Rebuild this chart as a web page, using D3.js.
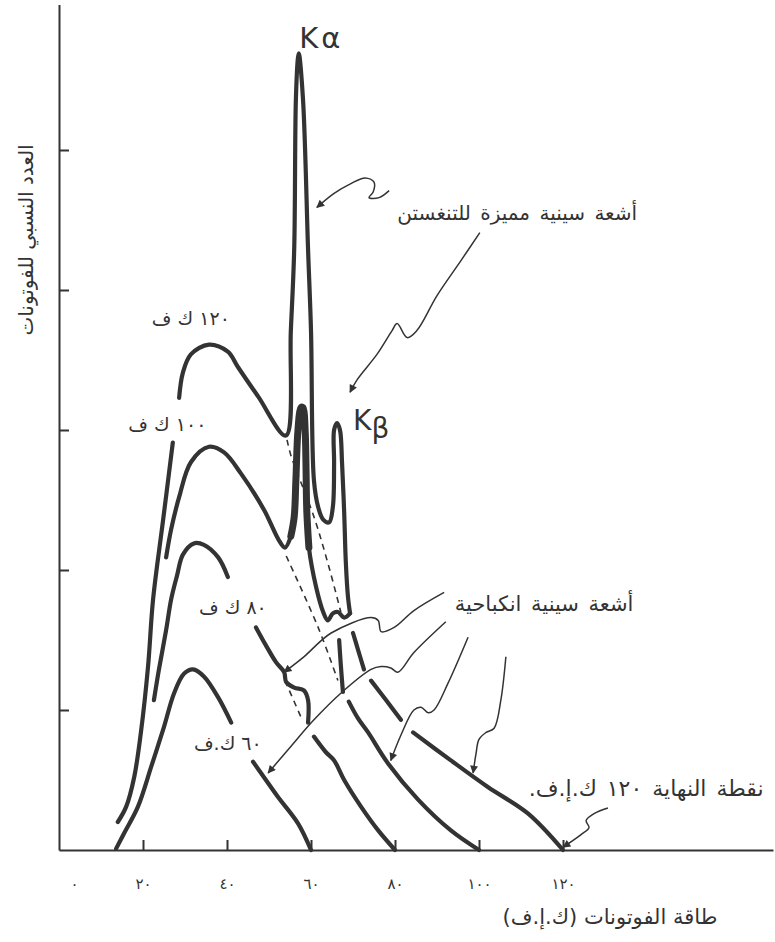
<!DOCTYPE html>
<html lang="ar">
<head>
    <meta charset="UTF-8">
    <script src="https://cdn.jsdelivr.net/npm/d3@7/dist/d3.min.js"></script>
    <title>طيف الأشعة السينية</title>
    <style>
        body { margin: 0; background: #fff; }
        text { font-family: "DejaVu Sans", sans-serif; fill: #333; }
    </style>
</head>
<body>
<script>
    // spectra: [photon energy keV, relative count]; null = pen lifted
    let kv60 = [
        [13.6, 0.01], [15.5, 0.12], [18.8, 0.31], [21.9, 0.59], [25.0, 0.88], [27.4, 1.12], [29.8, 1.26],
        [31.9, 1.29], [34.5, 1.24], [37.9, 1.09], [41.0, 0.91], null,
        [46.2, 0.63], [48.8, 0.52], [52.1, 0.38], [56.9, 0.19], [60, 0]
    ];
    let kv80 = [
        [22.6, 1.07], [23.8, 1.29], [25.5, 1.57], [26.7, 1.79], [28.1, 1.96], [29.5, 2.11], [32.1, 2.19],
        [34.5, 2.18], [37.9, 2.09], [40.2, 1.95], null,
        [46.9, 1.59], [49.3, 1.46], [51.7, 1.34], [53.6, 1.27], [54.1, 1.20], [56.0, 1.16], [58.3, 1.14],
        [59.3, 1.07], [59.3, 0.91], null,
        [60.7, 0.81], [63.5, 0.70], [65.5, 0.64], [67.9, 0.50], [71.9, 0.31], [76.0, 0.14], [80, 0]
    ];
    let kv100 = [
        [27.1, 2.91], [24.8, 2.36], [22.4, 1.79], [21.2, 1.31], [19.5, 0.84], [17.9, 0.52], [16.0, 0.31], [14.0, 0.20], null,
        [25.5, 2.09], [26.7, 2.29], [28.6, 2.52], [31.4, 2.77], [35.7, 2.88], [39.3, 2.84], [43.3, 2.69],
        [48.8, 2.43], [52.4, 2.21], [53.8, 2.16],
        [55.2, 2.24], [56.0, 2.38], [56.4, 2.64], [56.9, 3.00], [57.6, 3.16], [58.1, 3.16], [58.6, 3.00],
        [58.8, 2.76], [59.0, 2.42], [59.5, 2.16], [61.2, 1.88], [62.9, 1.70],
        [64.0, 1.64], [65.2, 1.69], [66.4, 1.70], [67.9, 1.66], [69.3, 1.69], null,
        [66.7, 1.50], [67.1, 1.32], [67.6, 1.13], null,
        [69.0, 1.06], [71.2, 0.94], [73.6, 0.84], [78.3, 0.62], [85.5, 0.36], [93.3, 0.14], [100, 0]
    ];
    let kv120 = [
        [28.6, 3.23], [29.5, 3.41], [31.4, 3.54], [35.7, 3.61], [40.2, 3.56], [42.6, 3.45], [47.4, 3.24], [54.0, 2.96],
        [55.2, 3.71], [56.0, 4.29], [56.4, 5.36], [56.9, 5.66], [57.1, 5.69], [58.1, 5.36], [59.3, 4.29],
        [60.0, 3.71], [60.7, 2.64], [61.7, 2.45], [62.9, 2.36], [64.3, 2.34], [65.2, 2.45], [65.5, 2.76],
        [65.5, 3.00], [66.2, 3.05], [66.9, 3.00], [67.4, 2.76], [67.9, 2.41], [68.3, 2.05], [68.8, 1.81], [69.3, 1.69], null,
        [70.0, 1.55], [71.2, 1.43], [72.6, 1.29], null,
        [74.3, 1.21], [77.9, 1.07], [81.4, 0.93], null,
        [84.3, 0.84], [93.3, 0.64], [102.1, 0.45], [111.7, 0.26], [120, 0]
    ];
    // continuum under the characteristic lines (dashed)
    let cont120 = [[54.3, 2.93], [55.2, 2.82], [60.7, 2.38], [64.1, 2.04], [67.1, 1.70]];
    let cont100 = [[54.1, 2.10], [61.7, 1.59], [66.4, 1.21]];
    let cont80 = [[53.8, 1.21], [57.9, 0.93]];

    let xTicks = [0, 20, 40, 60, 80, 100, 120];
    let yTicks = [1, 2, 3, 4, 5];
    let kvLabels = ["١٢٠ ك ف", "١٠٠ ك ف", "٨٠ ك ف", "٦٠ ك.ف"];

    let width = 775, height = 942;
    let ink = "#333";

    let svg = d3.select("body").append("svg")
        .attr("width", width)
        .attr("height", height);

    let x = d3.scaleLinear().domain([0, 170]).range([59, 773]);
    let y = d3.scaleLinear().domain([0, 6.04]).range([850, 4.4]);

    let arabic = d => String(d).replace(/\d/g, c => "٠١٢٣٤٥٦٧٨٩"[c]);

    // axes
    let xAxis = svg.append("g")
        .attr("transform", "translate(0," + y(0) + ")")
        .call(d3.axisBottom(x).tickValues(xTicks.slice(1)).tickSize(-10).tickSizeOuter(0).tickFormat(""));
    let yAxis = svg.append("g")
        .attr("transform", "translate(" + x(0) + ",0)")
        .call(d3.axisLeft(y).tickValues(yTicks).tickSize(-10).tickSizeOuter(0).tickFormat(""));
    [xAxis, yAxis].forEach(g => g.selectAll("path, line").attr("stroke", ink).attr("stroke-width", 2));

    let xLabels = svg.append("g")
        .attr("transform", "translate(0," + y(0) + ")")
        .call(d3.axisBottom(x).tickValues(xTicks).tickSize(0).tickPadding(28).tickFormat(arabic));
    xLabels.select(".domain").remove();
    xLabels.selectAll("text")
        .attr("dx", d => d === 0 ? 15 : 0)
        .attr("letter-spacing", 3)
        .style("font-size", "15px")
        .style("font-family", "DejaVu Sans")
        .attr("fill", ink);

    svg.append("text")
        .attr("x", 610).attr("y", 924)
        .attr("text-anchor", "middle")
        .attr("direction", "rtl")
        .style("font-size", "21px")
        .text("طاقة الفوتونات (ك.إ.ف)");
    svg.append("text")
        .attr("transform", "translate(33,240) rotate(-90)")
        .attr("text-anchor", "middle")
        .attr("direction", "rtl")
        .style("font-size", "20px")
        .text("العدد النسبي للفوتونات");

    // spectra
    let line = d3.line()
        .defined(d => d !== null)
        .x(d => x(d[0]))
        .y(d => y(d[1]))
        .curve(d3.curveCatmullRom.alpha(0.5));

    [cont120, cont100, cont80].forEach(c => {
        svg.append("path")
            .attr("d", line(c))
            .attr("fill", "none")
            .attr("stroke", ink)
            .attr("stroke-width", 1.6)
            .attr("stroke-dasharray", "6,5");
    });

    [kv60, kv80, kv100, kv120].forEach(s => {
        svg.append("path")
            .attr("d", line(s))
            .attr("fill", "none")
            .attr("stroke", ink)
            .attr("stroke-width", 4.2)
            .attr("stroke-linecap", "round")
            .attr("stroke-linejoin", "round");
    });

    // the 100 kVp K-alpha line is inked heavier
    svg.append("path")
        .attr("d", line(kv100.map(d => d && d[0] > 54.5 && d[0] < 59.6 && d[1] > 2.15 ? d : null)))
        .attr("fill", "none")
        .attr("stroke", ink)
        .attr("stroke-width", 7)
        .attr("stroke-linecap", "round");

    // labels
    let spots = [[31.4, 3.80], [25.8, 3.04], [41.4, 1.73], [40.2, 0.76]];
    svg.selectAll(".kv")
        .data(kvLabels)
        .enter()
        .append("text")
        .attr("class", "kv")
        .attr("x", (d, i) => x(spots[i][0]))
        .attr("y", (d, i) => y(spots[i][1]))
        .attr("dy", "0.35em")
        .attr("text-anchor", "middle")
        .attr("direction", "rtl")
        .attr("letter-spacing", 2.5)
        .style("font-size", "19px")
        .text(d => d);

    svg.append("text")
        .attr("x", x(57.2)).attr("y", y(5.73))
        .attr("letter-spacing", 3)
        .style("font-size", "29px")
        .text("Kα");
    let kb = svg.append("text")
        .attr("x", x(70.0)).attr("y", y(3.0))
        .style("font-size", "28px");
    kb.append("tspan").text("K");
    kb.append("tspan").attr("dy", 8).text("β");

    let notes = [
        {text: "أشعة سينية مميزة للتنغستن", at: [109.1, 4.55], size: 20},
        {text: "أشعة سينية انكباحية", at: [115.5, 1.76], size: 21},
        {text: "نقطة النهاية ١٢٠ ك.إ.ف.", at: [139.8, 0.44], size: 22}
    ];
    svg.selectAll(".note")
        .data(notes)
        .enter()
        .append("text")
        .attr("class", "note")
        .attr("x", d => x(d.at[0]))
        .attr("y", d => y(d.at[1]))
        .attr("dy", "0.35em")
        .attr("text-anchor", "middle")
        .attr("direction", "rtl")
        .attr("word-spacing", 3)
        .style("font-size", d => d.size + "px")
        .text(d => d.text);

    // hand-drawn pointers, tip first
    let pointers = [
        [[61.4, 4.59], [65.5, 4.69], [69.5, 4.76], [72.9, 4.80], [75.0, 4.77], [74.8, 4.70], [73.8, 4.66], [76.2, 4.66], [78.6, 4.71]],
        [[69.3, 3.27], [71.0, 3.36], [75.7, 3.54], [79.3, 3.71], [80.5, 3.76], [82.9, 3.66], [85.2, 3.71], [90.0, 3.96], [95.7, 4.21], [100.2, 4.41]],
        [[53.6, 1.27], [58.3, 1.38], [64.8, 1.55], [74.3, 1.66], [76.0, 1.64], [76.7, 1.56], [79.8, 1.59], [84.5, 1.71], [91.7, 1.84]],
        [[49.8, 0.55], [55.2, 0.74], [60.7, 0.93], [67.1, 1.12], [74.3, 1.29], [76.7, 1.31], [79.0, 1.30], [80.7, 1.27], [84.5, 1.41], [92.1, 1.63]],
        [[79.0, 0.64], [81.4, 0.82], [84.5, 1.00], [86.2, 1.02], [87.9, 0.98], [89.3, 1.00], [92.6, 1.19], [97.4, 1.52]],
        [[98.6, 0.55], [99.3, 0.69], [100.0, 0.79], [101.7, 0.84], [103.6, 0.87], [105.2, 1.07], [106.4, 1.38]],
        [[120.0, 0.02], [124.3, 0.11], [126.2, 0.16], [125.5, 0.21], [127.4, 0.26], [130.7, 0.30]]
    ];

    svg.append("defs").append("marker")
        .attr("id", "head")
        .attr("viewBox", "0 0 10 10")
        .attr("refX", 9).attr("refY", 5)
        .attr("markerWidth", 14).attr("markerHeight", 8)
        .attr("markerUnits", "userSpaceOnUse")
        .attr("orient", "auto-start-reverse")
        .append("path")
        .attr("d", "M0,0 L10,5 L0,10 Z")
        .attr("fill", ink);

    svg.selectAll(".pointer")
        .data(pointers)
        .enter()
        .append("path")
        .attr("class", "pointer")
        .attr("d", d => line(d))
        .attr("fill", "none")
        .attr("stroke", ink)
        .attr("stroke-width", 1.5)
        .attr("marker-start", "url(#head)");
</script>
</body>
</html>
